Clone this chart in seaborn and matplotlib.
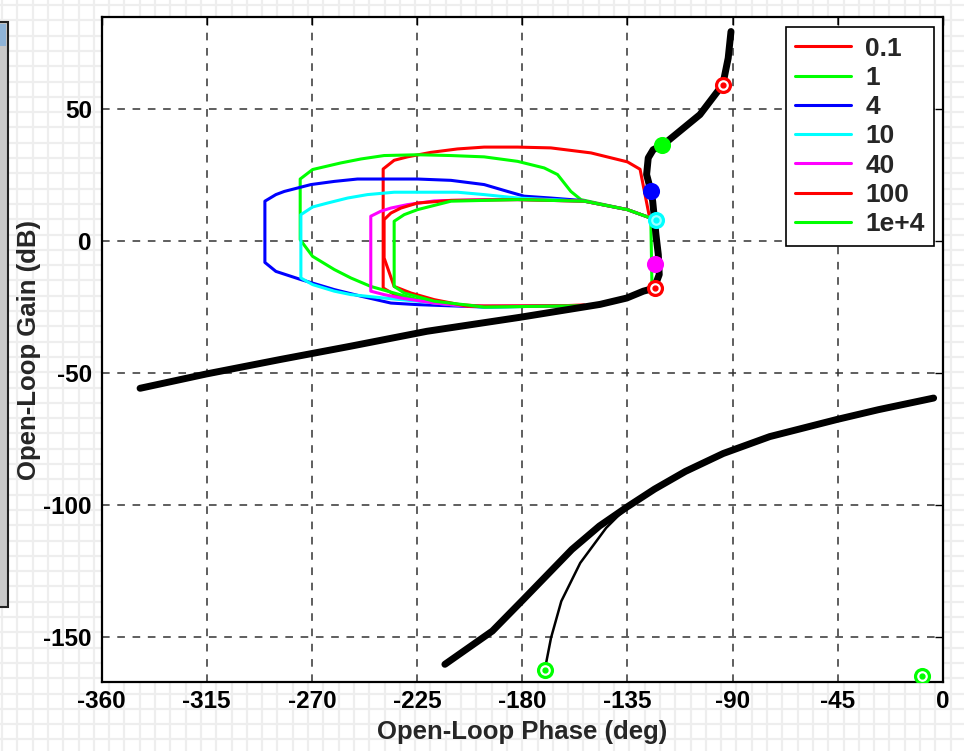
import matplotlib
matplotlib.use("Agg")
import matplotlib.pyplot as plt
import numpy as np
import pandas as pd
import seaborn as sns
from matplotlib.patches import Rectangle


# -----------------------------
# 1. Data (phase in deg, gain in dB)
# -----------------------------

LOOP_LABELS = ["0.1", "1", "4", "10", "40", "100", "1e+4"]
LOOP_COLORS = ["#FF0000", "#00FF00", "#0000FF", "#00FFFF", "#FF00FF", "#FF0000", "#00FF00"]

loop_01_phase = [-125.8, -129.6, -135.0, -150.6, -167.8, -182.0, -196.3, -207.7, -219.1,
                 -229.1, -234.8, -239.5, -239.5, -233.4, -217.7, -196.3, -167.8, -153.5]
loop_01_gain = [10.2, 27.3, 30.1, 33.5, 35.4, 35.7, 35.7, 35.0, 33.7,
                32.0, 30.7, 27.4, -17.7, -20.8, -23.4, -24.6, -24.6, -24.1]

loop_1_phase = [-125.0, -135.0, -154.9, -159.2, -164.9, -170.6, -182.0, -196.3, -210.5,
                -224.8, -239.1, -249.0, -257.6, -269.7, -275.0, -275.0, -269.7, -260.4,
                -253.3, -244.8, -234.8, -224.8, -210.5, -196.3, -153.5]
loop_1_gain = [8.8, 12.0, 15.8, 18.9, 25.3, 27.8, 30.3, 32.0, 32.5,
               32.8, 32.5, 31.2, 29.7, 27.2, 23.6, 0.6, -5.7, -10.7,
               -13.9, -17.1, -19.6, -22.1, -24.0, -24.9, -24.4]

loop_4_phase = [-125.0, -135.0, -154.9, -167.8, -179.2, -186.3, -196.3, -210.5, -224.8,
                -239.1, -250.5, -260.4, -270.4, -281.8, -285.4, -290.1, -290.1, -285.4,
                -274.7, -260.4, -249.0, -236.2, -224.8, -196.3, -153.5]
loop_4_gain = [8.8, 12.0, 15.5, 16.4, 17.1, 18.9, 21.5, 23.1, 23.6,
               23.6, 23.6, 22.7, 21.5, 18.9, 17.7, 15.2, -8.0, -11.4,
               -14.5, -18.3, -20.8, -23.4, -24.0, -24.9, -24.4]

loop_10_phase = [-125.0, -135.0, -153.5, -182.0, -196.3, -207.7, -224.8, -234.8, -246.2,
                 -254.7, -263.3, -269.7, -274.7, -274.7, -269.7, -260.4, -253.3, -239.1,
                 -224.8, -210.5, -196.3, -153.5]
loop_10_gain = [8.8, 12.0, 15.2, 16.4, 17.7, 18.6, 18.6, 18.6, 17.7,
                16.4, 14.5, 13.0, 10.1, -13.9, -16.4, -18.9, -20.2, -21.5,
                -22.7, -24.0, -24.9, -24.4]

loop_40_phase = [-125.0, -135.0, -153.5, -182.0, -196.3, -210.5, -217.7, -229.1, -236.2,
                 -240.5, -244.8, -244.8, -239.1, -231.9, -217.7, -203.4, -153.5]
loop_40_gain = [8.8, 12.0, 15.2, 15.8, 15.8, 15.5, 15.3, 13.9, 12.6,
                11.4, 9.5, -18.9, -20.2, -21.5, -23.4, -24.6, -24.4]

loop_100_phase = [-125.0, -135.0, -153.5, -182.0, -210.5, -224.8, -231.9, -236.2, -239.1,
                  -239.1, -234.8, -227.6, -217.7, -203.4, -153.5]
loop_100_gain = [8.8, 12.0, 15.2, 15.8, 15.5, 14.5, 12.6, 10.7, 8.2,
                 -6.3, -17.1, -19.6, -22.1, -24.6, -24.4]

loop_1e4_phase = [-124.5, -125.0, -135.0, -153.5, -182.0, -210.5, -224.8, -230.5, -234.8,
                  -234.8, -230.5, -217.7, -196.3, -153.5]
loop_1e4_gain = [-17.5, 8.8, 12.0, 15.2, 15.8, 15.2, 12.0, 10.1, 7.6,
                 -17.1, -19.6, -22.7, -24.9, -24.4]

# Thick black open-loop curve (upper branch)
main_phase = [-343.5, -315.3, -283.6, -253.7, -220.8, -181.0, -146.7, -135.3, -128.2,
              -123.6, -121.4, -121.8, -122.8, -124.2, -125.3, -126.8, -126.1, -124.0,
              -119.7, -104.0, -94.2, -91.9, -90.7]
main_gain = [-55.7, -50.3, -44.8, -39.8, -34.1, -28.8, -23.9, -21.5, -18.9,
             -17.8, -12.6, -5.0, 2.5, 15.2, 20.2, 25.3, 31.6, 34.7,
             36.6, 48.0, 59.4, 69.4, 79.5]

# Thick black lower branch
lower_phase = [-213.1, -192.8, -179.5, -158.8, -147.0, -135.2, -123.4, -110.2, -94.0,
               -74.1, -45.3, -27.6, -4.0]
lower_gain = [-160.3, -147.7, -135.7, -116.8, -107.9, -100.7, -93.9, -87.2, -80.4,
              -74.0, -67.5, -63.8, -59.4]

# Thin black branch
thin_phase = [-169.9, -167.7, -163.3, -155.2, -144.1, -135.2]
thin_gain = [-160.3, -150.3, -136.4, -121.9, -108.6, -100.7]

# Circle markers
marker_phase = [-94.2, -120.2, -125.0, -122.8, -123.2, -123.2, -170.2, -9.1]
marker_gain = [59.3, 36.5, 18.9, 8.0, -8.7, -17.8, -162.6, -164.8]
MARKER_COLORS = ["#FF0000", "#00FF00", "#0000FF", "#00FFFF", "#FF00FF", "#FF0000",
                 "#00FF00", "#00FF00"]
MARKER_FACES = ["white", "#00FF00", "#0000FF", "#9FFFFF", "#FF00FF", "white",
                "white", "white"]

X_TICKS = [-360, -315, -270, -225, -180, -135, -90, -45, 0]
Y_TICKS = [-150, -100, -50, 0, 50]


# -----------------------------
# 2. Figure
# -----------------------------

sns.set_style("white")
plt.rcParams["font.family"] = ["Liberation Sans", "DejaVu Sans"]
plt.rcParams["font.weight"] = "bold"

fig = plt.figure(figsize=(9.64, 7.51), dpi=100)

# faint window grid behind everything
bg = fig.add_axes([0, 0, 1, 1], zorder=-10)
bg.set_xlim(0, 964)
bg.set_ylim(751, 0)
bg.set_xticks(np.arange(2, 964, 15.3))
bg.set_yticks(np.arange(5, 751, 15.3))
bg.grid(True, color="#EEEEEE", lw=1.6)
bg.tick_params(length=0, labelbottom=False, labelleft=False)
for s in bg.spines.values():
    s.set_visible(False)
bg.add_patch(Rectangle((-2, 22), 10, 585, facecolor="#C9C9C9", edgecolor="#222222", lw=1.5))
bg.add_patch(Rectangle((-2, 24), 8, 22, facecolor="#8FB4D8", edgecolor="none"))

ax = fig.add_axes([101.5 / 964, 1 - 682 / 751, 841.5 / 964, 665 / 751])
ax.set_facecolor("white")

loops = [
    (loop_01_phase, loop_01_gain),
    (loop_1_phase, loop_1_gain),
    (loop_4_phase, loop_4_gain),
    (loop_10_phase, loop_10_gain),
    (loop_40_phase, loop_40_gain),
    (loop_100_phase, loop_100_gain),
    (loop_1e4_phase, loop_1e4_gain),
]
for (ph, gn), label, color in zip(loops, LOOP_LABELS, LOOP_COLORS):
    sns.lineplot(x=ph, y=gn, sort=False, estimator=None, color=color, lw=2.2,
                 label=label, ax=ax, zorder=3)

sns.lineplot(x=main_phase, y=main_gain, sort=False, estimator=None, color="black",
             lw=5, ax=ax, zorder=4, solid_capstyle="round")
sns.lineplot(x=lower_phase, y=lower_gain, sort=False, estimator=None, color="black",
             lw=5, ax=ax, zorder=4, solid_capstyle="round")
sns.lineplot(x=thin_phase, y=thin_gain, sort=False, estimator=None, color="black",
             lw=1.8, ax=ax, zorder=4)

for px, gy, mc, fc in zip(marker_phase, marker_gain, MARKER_COLORS, MARKER_FACES):
    ax.plot(px, gy, marker="o", ms=10, mfc=fc, mec=mc, mew=2.3, zorder=5)
    ax.plot(px, gy, marker="o", ms=3.5, mfc=mc, mec=mc, zorder=6)

ax.set_xlim(-360, 0)
ax.set_ylim(-167, 85)
ax.set_xticks(X_TICKS)
ax.set_yticks(Y_TICKS)
ax.set_xticklabels([str(t) for t in X_TICKS], fontsize=17.5, fontweight="bold")
ax.set_yticklabels([str(t) for t in Y_TICKS], fontsize=17.5, fontweight="bold")
ax.tick_params(direction="in", length=6, width=1, top=True, right=True, colors="black")
ax.tick_params(axis="x", pad=6)
ax.tick_params(axis="y", pad=7)

ax.grid(True, color="#333333", ls=(0, (5, 5)), lw=1.1)
for s in ax.spines.values():
    s.set_color("black")
    s.set_linewidth(1.6)

ax.set_xlabel("Open-Loop Phase (deg)", fontsize=18.5, fontweight="bold", labelpad=5)
ax.set_ylabel("Open-Loop Gain (dB)", fontsize=18.5, fontweight="bold")
ax.yaxis.set_label_coords(-0.072, 0.5)

leg = ax.legend(loc="upper right", bbox_to_anchor=((934 - 101.5) / 841.5, 1 - 10 / 665),
                borderaxespad=0, fancybox=False, framealpha=1, edgecolor="black",
                prop={"weight": "bold", "size": 19}, handlelength=2.1,
                handletextpad=0.55, labelspacing=0.2, borderpad=0.36)
leg.get_frame().set_linewidth(1.2)
for line in leg.get_lines():
    line.set_linewidth(2.2)

fig.savefig("out.png", dpi=100, facecolor="white")
